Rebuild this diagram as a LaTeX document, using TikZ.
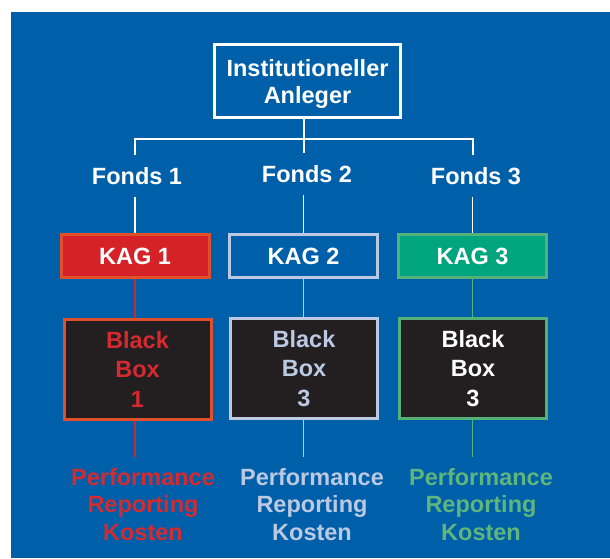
\documentclass[tikz,border=0pt]{standalone}
\usepackage{fontspec}
\setmainfont{Liberation Sans}
\usetikzlibrary{backgrounds}

\definecolor{bgblue}{HTML}{005FA9}
\definecolor{redfill}{HTML}{D52229}
\definecolor{redborder}{HTML}{E1502A}
\definecolor{redtext}{HTML}{D42A30}
\definecolor{redline}{HTML}{C8282E}
\definecolor{paleblue}{HTML}{BCC9E3}
\definecolor{greenfill}{HTML}{00A47D}
\definecolor{greenborder}{HTML}{55B17A}
\definecolor{greentext}{HTML}{5EB57D}
\definecolor{boxblack}{HTML}{231F20}

\begin{document}
\begin{tikzpicture}[x=1pt,y=-1pt,
  font=\bfseries\fontsize{23.5}{27.5}\selectfont,
  frame/.style={draw, line width=3pt, inner sep=0pt, align=center, text=white},
  kag/.style={frame, minimum width=148pt, minimum height=43pt},
  bbox/.style={frame, fill=boxblack, minimum width=147pt, minimum height=100pt,
    font=\bfseries\fontsize{23.5}{29.5}\selectfont, text depth=-10pt},
  fonds/.style={inner sep=0pt, minimum height=41pt, text=white},
  perf/.style={anchor=north, inner xsep=0pt, inner ysep=11pt, align=center},
  wire/.style={line width=1.5pt}]

\useasboundingbox (0,0) rectangle (610,558);

% investor at the top
\node[frame, draw=white, minimum width=186pt, minimum height=73pt,
      font=\bfseries\fontsize{23.5}{27}\selectfont, text depth=-3pt]
  (inv) at (307.5,81) {Institutioneller\\Anleger};

% funds
\node[fonds] (f1) at (137,176) {Fonds 1};
\node[fonds] (f2) at (307,174) {Fonds 2};
\node[fonds] (f3) at (476,176) {Fonds 3};

% management companies
\node[kag, fill=redfill, draw=redborder] (k1) at (135,256) {KAG 1};
\node[kag, fill=bgblue, draw=paleblue] (k2) at (303.5,256) {KAG 2};
\node[kag, fill=greenfill, draw=greenborder] (k3) at (472.5,256) {KAG 3};

% black boxes
\node[bbox, draw=redborder, text=redtext] (b1) at (137.5,369) {Black\\Box\\1};
\node[bbox, draw=paleblue, text=paleblue] (b2) at (304,368) {Black\\Box\\3};
\node[bbox, draw=greenborder] (b3) at (473,368) {Black\\Box\\3};

% cost labels
\node[perf, text=redtext] (p1) at (143,457) {Performance\\Reporting\\Kosten};
\node[perf, text=paleblue] (p2) at (312,457) {Performance\\Reporting\\Kosten};
\node[perf, text=greentext] (p3) at (481,457) {Performance\\Reporting\\Kosten};

\begin{pgfonlayer}{background}
  \fill[bgblue] (11,12) rectangle (610,558);

  \coordinate (hub) at (304,139);
  \coordinate (j1) at (135,139);
  \coordinate (j3) at (473,139);

  % tree of white lines
  \draw[wire, white] (inv.south -| hub) -- (hub);
  \draw[wire, white] (j1 |- f1.north) -- (j1) -- (j3) -- (j3 |- f3.north);
  \draw[wire, white] (hub) -- (hub |- f2.north);
  \draw[wire, white] (k1.north |- f1.south) -- (k1.north);
  \draw[wire, white] (k2.north |- f2.south) -- (k2.north);
  \draw[wire, white] (k3.north |- f3.south) -- (k3.north);

  % coloured lines per column
  \draw[wire, redline] (k1.south) -- (k1.south |- b1.north);
  \draw[wire, redline] (k1.south |- b1.south) -- (k1.south |- p1.north);
  \draw[wire, paleblue] (k2.south) -- (k2.south |- b2.north);
  \draw[wire, paleblue] (k2.south |- b2.south) -- (k2.south |- p2.north);
  \draw[wire, greenborder] (k3.south) -- (k3.south |- b3.north);
  \draw[wire, greenborder] (k3.south |- b3.south) -- (k3.south |- p3.north);
\end{pgfonlayer}
\end{tikzpicture}
\end{document}
